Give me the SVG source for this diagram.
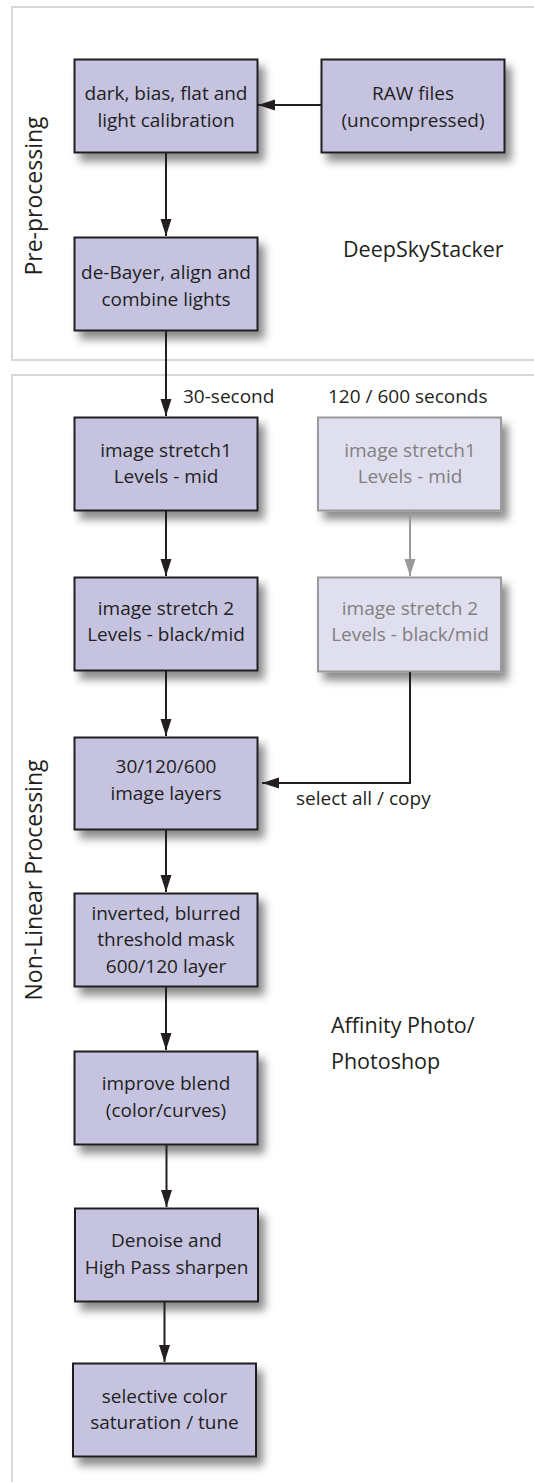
<svg xmlns="http://www.w3.org/2000/svg" width="534" height="1482" viewBox="0 0 534 1482">
<style>
.frame{fill:none;stroke:#d5d9d9;stroke-width:2}
.box{fill:#c5c3e0;stroke:#231f20;stroke-width:2}
.gbox{fill:#e0dfef;stroke:#9a9a9a;stroke-width:2}
.t{font-family:"Open Sans","Liberation Sans",sans-serif;font-size:19px;fill:#231f20;text-anchor:middle}
.gt{fill:#808080}
.lbl{font-family:"Open Sans","Liberation Sans",sans-serif;font-size:19px;fill:#231f20}
.big{font-size:21.5px}
.side{font-family:"Open Sans","Liberation Sans",sans-serif;font-size:23px;fill:#231f20;text-anchor:middle}
.c{fill:none;stroke:#231f20;stroke-width:2}
.cg{fill:none;stroke:#9a9a9a;stroke-width:2}
</style>
<defs>
<filter id="sh" x="-20%" y="-20%" width="150%" height="160%">
<feDropShadow dx="6" dy="8" stdDeviation="4" flood-color="#000" flood-opacity="0.45"/>
</filter>
<marker id="ah" markerUnits="userSpaceOnUse" markerWidth="17" markerHeight="12" refX="17" refY="6" orient="auto">
<path d="M0,0.5 L17,6 L0,11.5 z" fill="#231f20"/>
</marker>
<marker id="ahg" markerUnits="userSpaceOnUse" markerWidth="17" markerHeight="12" refX="17" refY="6" orient="auto">
<path d="M0,0.5 L17,6 L0,11.5 z" fill="#9a9a9a"/>
</marker>
</defs>
<rect width="534" height="1482" fill="#fff"/>
<g id="frames">
<path class="frame" d="M536,7 H12 V360 H536"/>
<path class="frame" d="M536,375 H12 V1484"/>
</g>
<g id="sidelabels">
<text class="side" transform="translate(42,196) rotate(-90)">Pre-processing</text>
<text class="side" transform="translate(42,880) rotate(-90)">Non-Linear Processing</text>
</g>
<g id="labels">
<text class="lbl big" x="343" y="257">DeepSkyStacker</text>
<text class="lbl" x="183" y="403">30-second</text>
<text class="lbl" x="328" y="403">120 / 600 seconds</text>
<text class="lbl" x="296" y="805">select all / copy</text>
<text class="lbl big" x="331" y="1033">Affinity Photo/</text>
<text class="lbl big" x="331" y="1069">Photoshop</text>
</g>
<g id="n_calib">
<rect class="box" filter="url(#sh)" x="74.5" y="59.5" width="183" height="93"/>
<text class="t" x="166" y="100">dark, bias, flat and</text>
<text class="t" x="166" y="127">light calibration</text>
</g>
<g id="n_raw">
<rect class="box" filter="url(#sh)" x="321.5" y="59.5" width="183" height="93"/>
<text class="t" x="413" y="100">RAW files</text>
<text class="t" x="413" y="127">(uncompressed)</text>
</g>
<g id="n_debayer">
<rect class="box" filter="url(#sh)" x="74.5" y="237.5" width="183" height="93"/>
<text class="t" x="166" y="279">de-Bayer, align and</text>
<text class="t" x="166" y="306">combine lights</text>
</g>
<g id="n_stretch1">
<rect class="box" filter="url(#sh)" x="74.5" y="417.5" width="183" height="93"/>
<text class="t" x="166" y="457">image stretch1</text>
<text class="t" x="166" y="483">Levels - mid</text>
</g>
<g id="n_stretch1b">
<rect class="gbox" filter="url(#sh)" x="318" y="417.5" width="183" height="93"/>
<text class="t gt" x="410" y="457">image stretch1</text>
<text class="t gt" x="410" y="483">Levels - mid</text>
</g>
<g id="n_stretch2">
<rect class="box" filter="url(#sh)" x="74.5" y="577.5" width="183" height="93"/>
<text class="t" x="166" y="615">image stretch 2</text>
<text class="t" x="166" y="641">Levels - black/mid</text>
</g>
<g id="n_stretch2b">
<rect class="gbox" filter="url(#sh)" x="318" y="577.5" width="183" height="94"/>
<text class="t gt" x="410" y="615">image stretch 2</text>
<text class="t gt" x="410" y="641">Levels - black/mid</text>
</g>
<g id="n_layers">
<rect class="box" filter="url(#sh)" x="74.5" y="737.5" width="183" height="92"/>
<text class="t" x="166" y="773">30/120/600</text>
<text class="t" x="166" y="800">image layers</text>
</g>
<g id="n_mask">
<rect class="box" filter="url(#sh)" x="74.5" y="893.5" width="183" height="93"/>
<text class="t" x="166" y="920">inverted, blurred</text>
<text class="t" x="166" y="946">threshold mask</text>
<text class="t" x="166" y="973">600/120 layer</text>
</g>
<g id="n_blend">
<rect class="box" filter="url(#sh)" x="74.5" y="1051.5" width="183" height="93"/>
<text class="t" x="166" y="1090">improve blend</text>
<text class="t" x="166" y="1117">(color/curves)</text>
</g>
<g id="n_denoise">
<rect class="box" filter="url(#sh)" x="75" y="1208.5" width="183" height="93"/>
<text class="t" x="166.5" y="1247">Denoise and</text>
<text class="t" x="166.5" y="1274">High Pass sharpen</text>
</g>
<g id="n_saturation">
<rect class="box" filter="url(#sh)" x="73" y="1363.5" width="183" height="93"/>
<text class="t" x="164.5" y="1403">selective color</text>
<text class="t" x="164.5" y="1429">saturation / tune</text>
</g>
<g id="connectors">
<path class="c" marker-end="url(#ah)" d="M322,105 H258"/>
<path class="c" marker-end="url(#ah)" d="M166,153 V236"/>
<path class="c" marker-end="url(#ah)" d="M166,331 V416"/>
<path class="c" marker-end="url(#ah)" d="M166,511 V576"/>
<path class="cg" marker-end="url(#ahg)" d="M410,511 V576"/>
<path class="c" marker-end="url(#ah)" d="M410,672 V783 H262"/>
<path class="c" marker-end="url(#ah)" d="M166,671 V736"/>
<path class="c" marker-end="url(#ah)" d="M166,830 V892"/>
<path class="c" marker-end="url(#ah)" d="M166,987 V1050"/>
<path class="c" marker-end="url(#ah)" d="M166.5,1145 V1207"/>
<path class="c" marker-end="url(#ah)" d="M164.5,1302 V1362"/>
</g>
</svg>
